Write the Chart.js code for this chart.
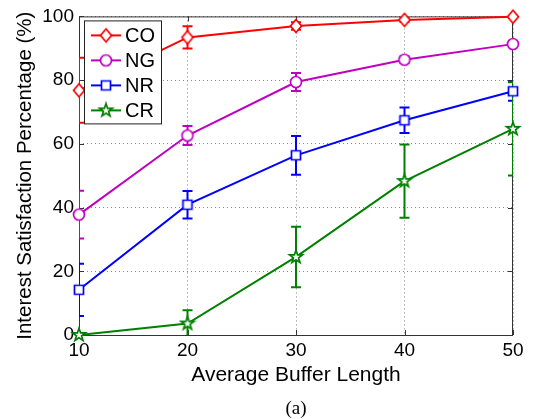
<!DOCTYPE html>
<html>
<head>
<meta charset="utf-8">
<script src="https://cdn.jsdelivr.net/npm/chart.js@4.4.1/dist/chart.umd.min.js"></script>
<style>
  html, body { margin: 0; padding: 0; background: #fff; }
  #wrap { width: 535px; height: 419px; }
</style>
</head>
<body>
<div id="wrap"><canvas id="chart"></canvas></div>
<script>
// values
const bufferLengths = [10, 20, 30, 40, 50];
const seriesNames = ["CO", "NG", "NR", "CR"];
const coValues = [76.8, 93.4, 97.0, 98.9, 99.9];
const coErrors = [10.2, 3.5, 1.2, 0.6, 0.4];
const ngValues = [37.8, 62.6, 79.4, 86.4, 91.3];
const ngErrors = [7.5, 3.0, 2.8, 1.0, 0.8];
const nrValues = [14.2, 40.9, 56.4, 67.4, 76.5];
const nrErrors = [8.2, 4.3, 6.1, 4.0, 3.0];
const crValues = [0, 3.6, 24.5, 48.3, 64.7];
const crErrors = [0, 4.2, 9.5, 11.5, 14.6];

const FONT = "'Liberation Sans', Arial, sans-serif";
const colors = ["#ff0000", "#c000c0", "#0000ff", "#008000"];
const shapes = ["diamond", "circle", "square", "star"];

// small canvases used as point markers (and in the legend)
function makeMarker(shape, color) {
    let s = 18;
    let c = document.createElement("canvas");
    c.width = s; c.height = s;
    let g = c.getContext("2d");
    g.translate(s / 2, s / 2);
    g.beginPath();
    if (shape === "diamond") {
        g.moveTo(0, -6.5); g.lineTo(5.5, 0); g.lineTo(0, 6.5); g.lineTo(-5.5, 0); g.closePath();
    } else if (shape === "circle") {
        g.arc(0, 0, 5.5, 0, Math.PI * 2);
    } else if (shape === "square") {
        g.rect(-4.5, -4.5, 9, 9);
    } else {
        for (let i = 0; i < 10; i++) {
            let r = i % 2 ? 2.7 : 6.8;
            let a = -Math.PI / 2 + i * Math.PI / 5;
            g.lineTo(r * Math.cos(a), r * Math.sin(a));
        }
        g.closePath();
    }
    g.fillStyle = "#fff";
    g.fill();
    g.lineWidth = 1.7;
    g.strokeStyle = color;
    g.stroke();
    return c;
}

const markers = shapes.map((s, i) => makeMarker(s, colors[i]));

function points(values, errors) {
    return bufferLengths.map((x, i) => ({ x: x, y: values[i], err: errors[i] }));
}

const allValues = [coValues, ngValues, nrValues, crValues];
const allErrors = [coErrors, ngErrors, nrErrors, crErrors];

const datasets = seriesNames.map((name, i) => ({
    label: name,
    data: points(allValues[i], allErrors[i]),
    borderColor: colors[i],
    backgroundColor: "#fff",
    borderWidth: 2,
    pointStyle: markers[i],
    tension: 0,
    clip: false
}));

// frame, inward ticks, error bars, legend box and caption
const decorations = {
    id: "decorations",
    beforeDatasetsDraw(chart) {
        let { ctx, chartArea: a, scales: { x, y } } = chart;
        ctx.save();
        ctx.strokeStyle = "#333";
        ctx.lineWidth = 1;
        ctx.strokeRect(a.left + 0.5, a.top + 0.5, a.right - a.left - 1, a.bottom - a.top);

        ctx.beginPath();
        y.ticks.forEach(t => {
            let py = Math.round(y.getPixelForValue(t.value)) + 0.5;
            ctx.moveTo(a.left, py); ctx.lineTo(a.left + 5, py);
            ctx.moveTo(a.right, py); ctx.lineTo(a.right - 5, py);
        });
        x.ticks.forEach(t => {
            let px = Math.round(x.getPixelForValue(t.value)) + 0.5;
            ctx.moveTo(px, a.bottom); ctx.lineTo(px, a.bottom - 5);
            ctx.moveTo(px, a.top); ctx.lineTo(px, a.top + 5);
        });
        ctx.stroke();

        ctx.beginPath();
        ctx.rect(a.left, a.top, a.right - a.left, a.bottom - a.top);
        ctx.clip();
        chart.data.datasets.forEach(ds => {
            ctx.strokeStyle = ds.borderColor;
            ctx.lineWidth = 2;
            ds.data.forEach(p => {
                if (!p.err) return;
                let px = x.getPixelForValue(p.x);
                let top = y.getPixelForValue(p.y + p.err);
                let bot = y.getPixelForValue(p.y - p.err);
                ctx.beginPath();
                ctx.moveTo(px, top); ctx.lineTo(px, bot);
                ctx.moveTo(px - 5, top); ctx.lineTo(px + 5, top);
                ctx.moveTo(px - 5, bot); ctx.lineTo(px + 5, bot);
                ctx.stroke();
            });
        });
        ctx.restore();
    },
    afterDraw(chart) {
        let { ctx, chartArea: a } = chart;
        ctx.save();
        // legend
        let bx = a.left + 5, by = a.top + 4, bw = 77, bh = 103;
        ctx.fillStyle = "#fff";
        ctx.fillRect(bx, by, bw, bh);
        ctx.strokeStyle = "#222";
        ctx.lineWidth = 1;
        ctx.strokeRect(bx + 0.5, by + 0.5, bw, bh);
        ctx.font = "20px " + FONT;
        ctx.textBaseline = "middle";
        seriesNames.forEach((name, i) => {
            let cy = by + 15 + i * 25;
            ctx.strokeStyle = colors[i];
            ctx.lineWidth = 2;
            ctx.beginPath();
            ctx.moveTo(bx + 7, cy); ctx.lineTo(bx + 37, cy);
            ctx.stroke();
            ctx.drawImage(markers[i], bx + 22 - 9, cy - 9);
            ctx.fillStyle = "#000";
            ctx.fillText(name, bx + 41, cy + 1);
        });
        // caption
        ctx.font = "19px 'Liberation Serif', 'Times New Roman', serif";
        ctx.textAlign = "center";
        ctx.fillStyle = "#000";
        ctx.fillText("(a)", (a.left + a.right) / 2, 409);
        ctx.restore();
    }
};

new Chart(document.getElementById("chart"), {
    type: "line",
    data: { datasets: datasets },
    options: {
        responsive: true,
        maintainAspectRatio: false,
        animation: false,
        layout: { padding: { top: 13, right: 22, left: 0, bottom: 0 } },
        plugins: { legend: { display: false }, tooltip: { enabled: false } },
        scales: {
            x: {
                type: "linear",
                min: 10, max: 50,
                afterFit: s => { s.height = 84; },
                ticks: { stepSize: 10, color: "#000", font: { family: FONT, size: 19 }, padding: 4 },
                grid: { color: "#888", lineWidth: 1, drawTicks: false },
                border: { display: false, dash: [1, 3] },
                title: {
                    display: true, text: "Average Buffer Length", color: "#000",
                    font: { family: FONT, size: 21 }, padding: { top: 0, bottom: 31 }
                }
            },
            y: {
                min: 0, max: 100,
                afterFit: s => { s.width = 79; },
                ticks: { stepSize: 20, color: "#000", font: { family: FONT, size: 19 }, padding: 5 },
                grid: { color: "#888", lineWidth: 1, drawTicks: false },
                border: { display: false, dash: [1, 3] },
                title: {
                    display: true, text: "Interest Satisfaction Percentage (%)", color: "#000",
                    font: { family: FONT, size: 20.5 }, padding: { top: 13, bottom: 0 }
                }
            }
        }
    },
    plugins: [decorations]
});
</script>
</body>
</html>
